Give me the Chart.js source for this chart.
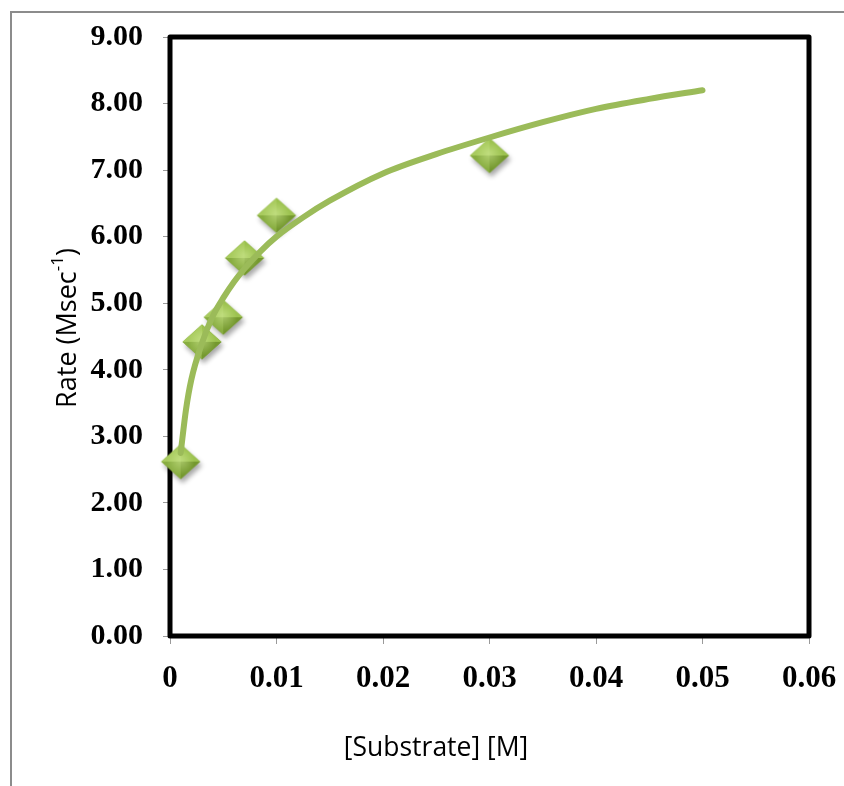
<!DOCTYPE html>
<html>
<head>
<meta charset="utf-8">
<style>
  html, body { margin: 0; padding: 0; background: #ffffff; }
  #wrap { position: relative; width: 844px; height: 786px; }
</style>
<script src="https://cdn.jsdelivr.net/npm/chart.js@4.4.1/dist/chart.umd.min.js"></script>
</head>
<body>
<div id="wrap"><canvas id="chart" width="844" height="786"></canvas></div>
<script>
// Measured substrate concentrations [M] and initial rates
const substrate = [0.001, 0.003, 0.005, 0.007, 0.010, 0.030];
const rate = [2.62, 4.42, 4.79, 5.68, 6.32, 7.22];

// Saturation trend line, sampled along the drawn curve
const trendX = [0.001, 0.0015, 0.002, 0.003, 0.004, 0.005, 0.006, 0.007, 0.0085, 0.010, 0.0125, 0.015, 0.020, 0.025, 0.030, 0.035, 0.040, 0.045, 0.050];
const trendY = [2.75, 3.40, 3.85, 4.40, 4.80, 5.08, 5.32, 5.52, 5.78, 6.00, 6.29, 6.54, 6.95, 7.24, 7.49, 7.72, 7.92, 8.07, 8.20];

// Axis tick labels
const xTickLabels = ['0', '0.01', '0.02', '0.03', '0.04', '0.05', '0.06'];
const yTickLabels = ['0.00', '1.00', '2.00', '3.00', '4.00', '5.00', '6.00', '7.00', '8.00', '9.00'];

const xTitle = '[Substrate] [M]';
const yTitleMain = 'Rate (Msec';
const yTitleSup = '-1';
const yTitleEnd = ')';

const GREEN = '#9bbb59';

// Bevelled green diamond marker
function makeDiamond() {
  const c = document.createElement('canvas');
  c.width = 52; c.height = 52;
  const g = c.getContext('2d');
  const cx = 26, cy = 26, hw = 19.5, hh = 17.5;
  const L = [cx - hw, cy], T = [cx, cy - hh], R = [cx + hw, cy], B = [cx, cy + hh];
  g.save();
  g.shadowColor = 'rgba(0,0,0,0.35)';
  g.shadowBlur = 5;
  g.shadowOffsetX = 2;
  g.shadowOffsetY = 4;
  g.beginPath();
  g.moveTo(L[0], L[1]); g.lineTo(T[0], T[1]); g.lineTo(R[0], R[1]); g.lineTo(B[0], B[1]);
  g.closePath();
  g.fillStyle = '#7fa53a';
  g.fill();
  g.restore();
  const C = [cx, cy];
  const facet = (a, b, col) => {
    g.beginPath();
    g.moveTo(a[0], a[1]); g.lineTo(b[0], b[1]); g.lineTo(C[0], C[1]);
    g.closePath();
    g.fillStyle = col;
    g.fill();
  };
  facet(L, T, '#a8cb5e');
  facet(T, R, '#9cc24f');
  facet(R, B, '#74982e');
  facet(B, L, '#88ad40');
  const rg = g.createRadialGradient(cx, cy - 2, 1, cx, cy, 14);
  rg.addColorStop(0, 'rgba(210,235,150,0.55)');
  rg.addColorStop(1, 'rgba(210,235,150,0)');
  g.beginPath();
  g.moveTo(L[0], L[1]); g.lineTo(T[0], T[1]); g.lineTo(R[0], R[1]); g.lineTo(B[0], B[1]);
  g.closePath();
  g.fillStyle = rg;
  g.fill();
  return c;
}
const diamond = makeDiamond();

// Outer chart frame, thick plot-area box and axis titles
const framePlugin = {
  id: 'frames',
  beforeDraw(chart) {
    const ctx = chart.ctx;
    ctx.save();
    ctx.fillStyle = '#ffffff';
    ctx.fillRect(0, 0, chart.width, chart.height);
    ctx.strokeStyle = '#8c8c8c';
    ctx.lineWidth = 2;
    ctx.strokeRect(11, 12, chart.width + 20, chart.height + 20);
    ctx.restore();
  },
  beforeDatasetsDraw(chart) {
    const { ctx, chartArea: a } = chart;
    ctx.save();
    ctx.strokeStyle = '#000000';
    ctx.lineWidth = 5;
    ctx.lineJoin = 'round';
    ctx.strokeRect(a.left, a.top, a.right - a.left, a.bottom - a.top);
    ctx.restore();
  },
  afterDraw(chart) {
    const { ctx } = chart;
    ctx.save();
    ctx.fillStyle = '#000000';
    // x-axis title
    ctx.font = '26.5px "Open Sans"';
    ctx.textAlign = 'center';
    ctx.textBaseline = 'middle';
    ctx.fillText(xTitle, 436, 748);
    // y-axis title, rotated, with superscript
    ctx.translate(67, 328);
    ctx.rotate(-Math.PI / 2);
    const mainFont = '27px "Open Sans"';
    const supFont = '17px "Open Sans"';
    ctx.font = mainFont;
    const w1 = ctx.measureText(yTitleMain).width;
    const w3 = ctx.measureText(yTitleEnd).width;
    ctx.font = supFont;
    const w2 = ctx.measureText(yTitleSup).width;
    let x = -(w1 + w2 + w3) / 2;
    ctx.textAlign = 'left';
    ctx.textBaseline = 'alphabetic';
    ctx.font = mainFont;
    ctx.fillText(yTitleMain, x, 9);
    x += w1;
    ctx.font = supFont;
    ctx.fillText(yTitleSup, x, -4);
    x += w2;
    ctx.font = mainFont;
    ctx.fillText(yTitleEnd, x, 9);
    ctx.restore();
  }
};

new Chart(document.getElementById('chart'), {
  type: 'scatter',
  data: {
    datasets: [
      {
        label: 'Trend',
        type: 'line',
        data: trendX.map((x, i) => ({ x, y: trendY[i] })),
        borderColor: GREEN,
        borderWidth: 6,
        borderCapStyle: 'round',
        borderJoinStyle: 'round',
        pointRadius: 0,
        fill: false,
        cubicInterpolationMode: 'monotone',
        order: 0
      },
      {
        label: 'Rate',
        data: substrate.map((x, i) => ({ x, y: rate[i] })),
        pointStyle: diamond,
        pointRadius: 18,
        order: 1
      }
    ]
  },
  options: {
    responsive: false,
    animation: false,
    clip: false,
    layout: { padding: { left: 0, right: 35, top: 37, bottom: 0 } },
    plugins: {
      legend: { display: false },
      tooltip: { enabled: false }
    },
    scales: {
      x: {
        type: 'linear',
        min: 0,
        max: 0.06,
        afterBuildTicks(scale) {
          scale.ticks = xTickLabels.map((_, i) => ({ value: i * 0.01 }));
        },
        afterFit(scale) {
          scale.height = 150;
          scale.paddingLeft = 0;
          scale.paddingRight = 0;
        },
        border: { display: true, color: '#8c8c8c', width: 1 },
        grid: { display: true, drawOnChartArea: false, drawTicks: true, tickLength: 8, color: '#9a9a9a' },
        ticks: {
          padding: 16,
          color: '#000000',
          font: { family: '"Liberation Serif", "Times New Roman", serif', size: 31, weight: 'bold' },
          callback: (v, i) => xTickLabels[i]
        }
      },
      y: {
        type: 'linear',
        min: 0,
        max: 9,
        afterBuildTicks(scale) {
          scale.ticks = yTickLabels.map((_, i) => ({ value: i }));
        },
        afterFit(scale) {
          scale.width = 170;
          scale.paddingTop = 0;
          scale.paddingBottom = 0;
        },
        border: { display: true, color: '#8c8c8c', width: 1 },
        grid: { display: true, drawOnChartArea: false, drawTicks: true, tickLength: 7, color: '#9a9a9a' },
        ticks: {
          padding: 20,
          color: '#000000',
          font: { family: '"Liberation Serif", "Times New Roman", serif', size: 30, weight: 'bold' },
          callback: (v, i) => yTickLabels[i]
        }
      }
    }
  },
  plugins: [framePlugin]
});
</script>
</body>
</html>
